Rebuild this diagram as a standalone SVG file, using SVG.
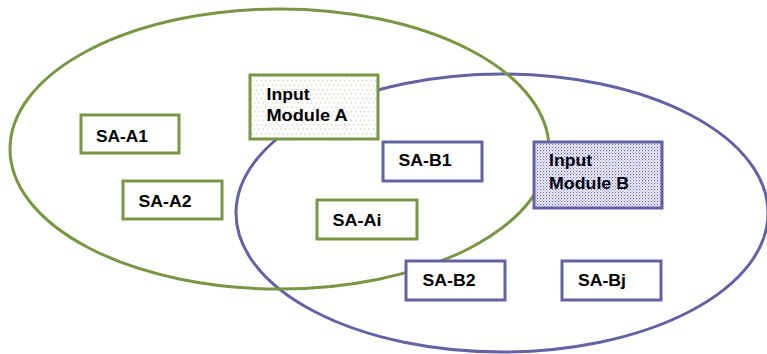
<svg xmlns="http://www.w3.org/2000/svg" width="767" height="354" viewBox="0 0 767 354">
<style>
.eg{fill:none;stroke:#789643;stroke-width:3}
.ep{fill:none;stroke:#6462a2;stroke-width:3}
.bg{fill:#fff;stroke:#789643;stroke-width:3}
.bp{fill:#fff;stroke:#6462a2;stroke-width:3}
.t{font-family:"Liberation Sans",Arial,sans-serif;font-weight:bold;font-size:16px;fill:#000}
</style>
<defs>
<pattern id="pa" width="4.4" height="8.8" patternUnits="userSpaceOnUse">
<rect width="4.4" height="8.8" fill="#fff"/>
<rect x="1" y="1" width="1.2" height="1.2" fill="#b9c6a0"/>
<rect x="3.2" y="5.4" width="1.2" height="1.2" fill="#b9c6a0"/>
</pattern>
<pattern id="pb" width="3" height="3" patternUnits="userSpaceOnUse">
<rect width="3" height="3" fill="#fff"/>
<rect x="0" y="0" width="1.2" height="1.2" fill="#5a5ad8"/>
<rect x="1.5" y="1.5" width="1.2" height="1.2" fill="#8484e2"/>
</pattern>
</defs>
<g id="connectors">
<ellipse id="setB" class="ep" cx="502" cy="213" rx="266" ry="139"/>
<ellipse id="setA" class="eg" cx="279.5" cy="149" rx="269.5" ry="140"/>
</g>
<g id="inputA">
<rect x="250" y="75" width="128" height="64" fill="url(#pa)" stroke="#789643" stroke-width="3"/>
<text class="t" x="266.5" y="99.5" textLength="43" lengthAdjust="spacingAndGlyphs">Input</text>
<text class="t" x="266.5" y="121" textLength="81" lengthAdjust="spacingAndGlyphs">Module A</text>
</g>
<g id="inputB">
<rect x="534" y="142" width="128" height="66" fill="url(#pb)" stroke="#6462a2" stroke-width="3"/>
<text class="t" x="549" y="166" textLength="43" lengthAdjust="spacingAndGlyphs">Input</text>
<text class="t" x="549" y="189" textLength="80" lengthAdjust="spacingAndGlyphs">Module B</text>
</g>
<g id="saA1">
<rect class="bg" x="81" y="115" width="98" height="38"/>
<text class="t" x="96" y="141.5" textLength="52" lengthAdjust="spacingAndGlyphs">SA-A1</text>
</g>
<g id="saA2">
<rect class="bg" x="123" y="181" width="99" height="38"/>
<text class="t" x="138.5" y="206.5" textLength="53" lengthAdjust="spacingAndGlyphs">SA-A2</text>
</g>
<g id="saB1">
<rect class="bp" x="383" y="142" width="99" height="39"/>
<text class="t" x="398.5" y="166" textLength="53" lengthAdjust="spacingAndGlyphs">SA-B1</text>
</g>
<g id="saAi">
<rect class="bg" x="317" y="200" width="100" height="39"/>
<text class="t" x="332.5" y="226" textLength="49" lengthAdjust="spacingAndGlyphs">SA-Ai</text>
</g>
<g id="saB2">
<rect class="bp" x="406" y="261" width="99" height="39"/>
<text class="t" x="422.5" y="286" textLength="53" lengthAdjust="spacingAndGlyphs">SA-B2</text>
</g>
<g id="saBj">
<rect class="bp" x="562" y="261" width="99" height="39"/>
<text class="t" x="578" y="286" textLength="48" lengthAdjust="spacingAndGlyphs">SA-Bj</text>
</g>
</svg>
